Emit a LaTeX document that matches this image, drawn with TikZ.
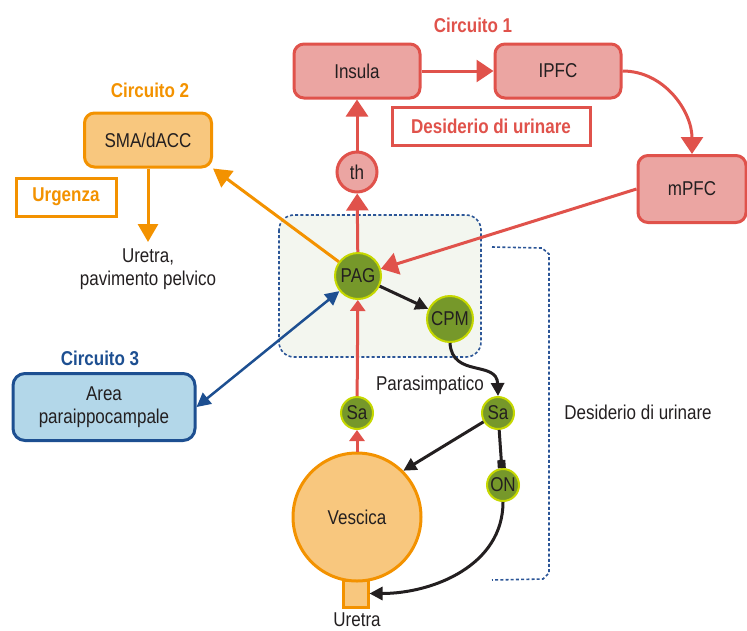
\documentclass[tikz,border=0pt]{standalone}
\usepackage{fontspec}
\setmainfont[FakeStretch=0.85]{Liberation Sans}
\usetikzlibrary{arrows.meta,calc}
\definecolor{cred}{HTML}{E0524B}
\definecolor{cpink}{HTML}{EBA5A2}
\definecolor{corange}{HTML}{F39200}
\definecolor{cpeach}{HTML}{F8C77E}
\definecolor{cblue}{HTML}{1D4F91}
\definecolor{clightblue}{HTML}{B3D7E9}
\definecolor{cgreen}{HTML}{76982A}
\definecolor{clime}{HTML}{C6D800}
\definecolor{cdash}{HTML}{2B5597}
\definecolor{cbox}{HTML}{F3F6EF}
\definecolor{ctext}{HTML}{231F20}
\tikzset{
  every node/.style={font=\fontsize{20}{23}\selectfont, text=ctext},
  redbox/.style={draw=cred, fill=cpink, line width=3pt, rounded corners=10pt, minimum width=126pt, minimum height=54pt},
  orangebox/.style={draw=corange, fill=cpeach, line width=3pt, rounded corners=10pt, minimum width=127pt, minimum height=54pt},
  bluebox/.style={draw=cblue, fill=clightblue, line width=3pt, rounded corners=12pt, minimum width=182pt, minimum height=67pt, align=center},
  labelbox/.style={draw=#1, fill=white, line width=3pt, text=#1, font=\fontsize{20}{23}\selectfont\bfseries},
  title/.style={text=#1, font=\fontsize{20}{23}\selectfont\bfseries},
  gcircle/.style={circle, draw=clime, fill=cgreen, line width=2pt, inner sep=0pt, minimum size=#1},
  redarr/.style={draw=cred, line width=3pt, -{Triangle[length=17pt,width=22pt]}},
  redarrs/.style={draw=cred, line width=3pt, -{Triangle[length=11pt,width=15pt]}},
  blackarr/.style={draw=ctext, line width=3pt, -{Triangle[length=13pt,width=13pt]}},
  orangearr/.style={draw=corange, line width=3pt, -{Triangle[length=18pt,width=20pt]}},
  bluearr/.style={draw=cblue, line width=2.5pt, {Triangle[length=14pt,width=14pt]}-{Triangle[length=14pt,width=14pt]}},
  dashline/.style={draw=cdash, line width=1.6pt, dash pattern=on 3pt off 2.2pt}
}
\begin{document}
\begin{tikzpicture}[x=1pt,y=-1pt]
\useasboundingbox (0,0) rectangle (747,630);
% dashed area
\draw[dashline, fill=cbox, rounded corners=15pt] (279,215) rectangle (481,357);
\draw[dashline] (492,247) -- (542,248) -- (549,254) -- (549,573) -- (543,579) -- (492,580);
% circuit 1
\node[title=cred] (c1) at (473,25) {Circuito 1};
\node[redbox] (insula) at (357,71) {Insula};
\node[redbox] (ipfc) at (558,71) {IPFC};
\node[labelbox=cred, minimum width=198pt, minimum height=38pt] (desid) at (491,126) {Desiderio di urinare};
\node[redbox, minimum width=108pt, minimum height=67pt] (mpfc) at (692,189) {mPFC};
\node[circle, draw=cred, fill=cpink, line width=3pt, minimum size=40pt, inner sep=0pt] (th) at (357,172) {th};
% circuit 2
\node[title=corange] (c2) at (150,90) {Circuito 2};
\node[orangebox] (sma) at (148,140) {SMA/dACC};
\node[labelbox=corange, minimum width=100pt, minimum height=38pt] (urg) at (66,197) {Urgenza};
\coordinate (smaend) at (148,242);
\node[align=center] (upp) at (148,269) {Uretra,\\pavimento pelvico};
% circuit 3
\node[title=cblue] (c3) at (100,358) {Circuito 3};
\node[bluebox] (area) at (104,407) {Area\\paraippocampale};
% central
\node[gcircle=46pt] (pag) at (358,276) {PAG};
\node[gcircle=46pt] (cpm) at (450,319) {CPM};
\node[gcircle=32pt] (sal) at (357,413) {Sa};
\node[gcircle=32pt] (sar) at (498,413) {Sa};
\node[gcircle=32pt] (on) at (503,485) {ON};
\node[draw=corange, fill=cpeach, line width=3pt, minimum width=25pt, minimum height=27pt, inner sep=0pt] (uretra) at (355.5,593.5) {};
\node[circle, draw=corange, fill=cpeach, line width=3pt, minimum size=128pt, inner sep=0pt] (vescica) at (357,517) {Vescica};
\node (uretralbl) at (357,620) {Uretra};
\node (para) at (430,385) {Parasimpatico};
\node (desidtxt) at (638,412) {Desiderio di urinare};
% connectors
\draw[redarr] (insula) -- (ipfc);
\draw[redarr] (ipfc.east) to[out=0,in=90] (mpfc.north);
\draw[redarr] (th) -- (insula);
\draw[redarr] (pag) -- (th);
\draw[redarr] (mpfc.west) -- (pag);
\draw[redarrs] (sal) -- (pag);
\draw[redarrs] (vescica) -- (sal);
\draw[orangearr] (pag) -- (sma.south east);
\draw[orangearr] (sma.south) -- (smaend);
\draw[bluearr] (pag) -- (area.east);
\draw[blackarr] (pag) -- (cpm);
\draw[blackarr] (cpm.south) .. controls (452,378) and (497,360) .. (sar.north);
\draw[blackarr] (sar) -- (vescica.45);
\draw[draw=ctext, line width=3pt, -{Square[length=8pt,width=8pt]}] (sar) -- (on);
\draw[blackarr] (on.south) to[out=-90,in=0] (uretra.east);
\end{tikzpicture}
\end{document}
